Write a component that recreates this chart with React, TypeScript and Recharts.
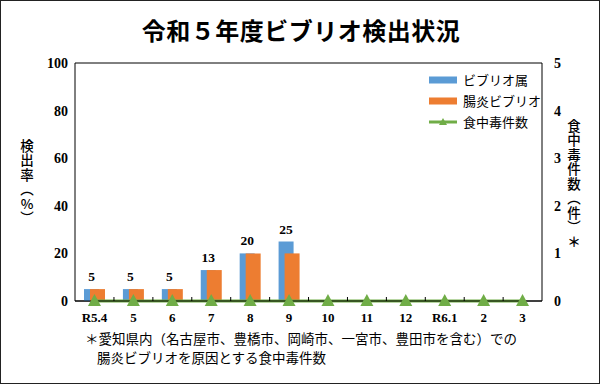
import { ComposedChart, Bar, Line, XAxis, YAxis, CartesianGrid, LabelList } from 'recharts';

const months = ['R5.4', '5', '6', '7', '8', '9', '10', '11', '12', 'R6.1', '2', '3'];
const vibrioGenus = [5, 5, 5, 13, 20, 25, 0, 0, 0, 0, 0, 0];
const vpVibrio = [5, 5, 5, 13, 20, 20, 0, 0, 0, 0, 0, 0];
const poisonCases = [0, 0, 0, 0, 0, 0, 0, 0, 0, 0, 0, 0];
const leftTicks = [0, 20, 40, 60, 80, 100];
const rightTicks = [0, 1, 2, 3, 4, 5];

const BLUE = '#5B9BD5';
const ORANGE = '#ED7D31';
const GREEN = '#70AD47';
const JP = '"Noto Sans CJK JP", "Noto Sans", sans-serif';
const SERIF = '"Liberation Serif", "DejaVu Serif", serif';

const data = months.map((m, i) => ({
    month: m,
    genus: vibrioGenus[i],
    vp: vpVibrio[i],
    cases: poisonCases[i],
}));

const Triangle = (props: any) => {
    const { cx, cy } = props;
    if (cx == null || cy == null) return null;
    return <path d={`M${cx - 6.5},${cy + 5} L${cx + 6.5},${cy + 5} L${cx},${cy - 7} Z`} fill={GREEN} />;
};

// month label plus the small divider tick between categories
const MonthTick = (props: any) => {
    const { x, y, payload, index, visibleTicksCount } = props;
    const axisY = y - 12;
    const half = 19.5;
    return (
        <g>
            {index < visibleTicksCount - 1 && (
                <line x1={x + half} y1={axisY - 4} x2={x + half} y2={axisY} stroke="#000" strokeWidth={1} />
            )}
            <text x={x} y={y} dy="0.71em" textAnchor="middle" fill="#000" fontSize={13} fontWeight={700} fontFamily={SERIF}>
                {payload.value}
            </text>
        </g>
    );
};

const legendItems = [
    { label: 'ビブリオ属', color: BLUE, kind: 'bar' },
    { label: '腸炎ビブリオ', color: ORANGE, kind: 'bar' },
    { label: '食中毒件数', color: GREEN, kind: 'line' },
];

function LegendBox() {
    return (
        <div style={{ position: 'absolute', left: 428, top: 68, fontFamily: JP, fontSize: 13, color: '#000' }}>
            {legendItems.map(it => (
                <div key={it.label} style={{ display: 'flex', alignItems: 'center', height: 21 }}>
                    <svg width={30} height={12} style={{ marginRight: 4 }}>
                        {it.kind === 'bar'
                            ? <rect x={0} y={2.5} width={28} height={7} fill={it.color} />
                            : <g>
                                <line x1={0} y1={6} x2={28} y2={6} stroke={it.color} strokeWidth={3} />
                                <path d="M10,9 L18,9 L14,2 Z" fill={it.color} />
                            </g>}
                    </svg>
                    <span>{it.label}</span>
                </div>
            ))}
        </div>
    );
}

const vStyle = {
    position: 'absolute' as const,
    writingMode: 'vertical-rl' as const,
    textOrientation: 'upright' as const,
    fontFamily: JP,
    fontSize: 13.5,
    fontWeight: 500,
    lineHeight: '16px',
    letterSpacing: 1,
};

export default function App() {
    return (
        <div style={{ position: 'absolute', left: 0, top: 0, width: 600, height: 384, border: '1px solid #222', boxSizing: 'border-box', background: '#fff', overflow: 'hidden' }}>
            <div style={{ position: 'absolute', left: 0, top: 11, width: 600, textAlign: 'center', fontFamily: JP, fontWeight: 700, fontSize: 24, letterSpacing: 0.5 }}>
                令和５年度ビブリオ検出状況
            </div>
            <div style={{ position: 'absolute', left: 0, top: 0 }}>
                <ComposedChart width={600} height={384} data={data} margin={{ top: 62, right: 29, bottom: 54, left: 44 }} barGap={-9} barCategoryGap={0}>
                    <CartesianGrid vertical={false} stroke="#000" strokeWidth={1} />
                    <XAxis dataKey="month" stroke="#000" tickLine={false} tickSize={0} tickMargin={12}
                        tick={<MonthTick />} interval={0} />
                    <YAxis yAxisId="left" domain={[0, 100]} ticks={leftTicks} width={30} stroke="#000" tickLine={false} tickSize={0} tickMargin={7}
                        tick={{ fill: '#000', fontSize: 14, fontWeight: 700, fontFamily: SERIF }} />
                    <YAxis yAxisId="right" orientation="right" domain={[0, 5]} ticks={rightTicks} width={30} stroke="#000" tickLine={false} tickSize={0} tickMargin={12}
                        tick={{ fill: '#000', fontSize: 14, fontWeight: 700, fontFamily: SERIF }} />
                    <Bar yAxisId="left" dataKey="genus" fill={BLUE} barSize={15} isAnimationActive={false}>
                        <LabelList dataKey="genus" position="top" offset={8} fill="#000" fontSize={13.5} fontWeight={700} fontFamily={SERIF} />
                    </Bar>
                    <Bar yAxisId="left" dataKey="vp" fill={ORANGE} barSize={15} isAnimationActive={false} />
                    <Line yAxisId="right" dataKey="cases" stroke={GREEN} strokeWidth={3} dot={<Triangle />} activeDot={false} isAnimationActive={false} />
                </ComposedChart>
            </div>
            <LegendBox />
            <div style={{ ...vStyle, left: 18, top: 138 }}>検出率（%）</div>
            <div style={{ ...vStyle, left: 565, top: 118 }}>食中毒件数（件）<span style={{ display: 'inline-block', marginTop: 0, fontWeight: 700 }}>＊</span></div>
            <div style={{ position: 'absolute', left: 84, top: 328, fontFamily: JP, fontSize: 13.5, lineHeight: '19px', color: '#000' }}>
                <div>＊愛知県内（名古屋市、豊橋市、岡崎市、一宮市、豊田市を含む）での</div>
                <div style={{ paddingLeft: 12 }}>腸炎ビブリオを原因とする食中毒件数</div>
            </div>
        </div>
    );
}
